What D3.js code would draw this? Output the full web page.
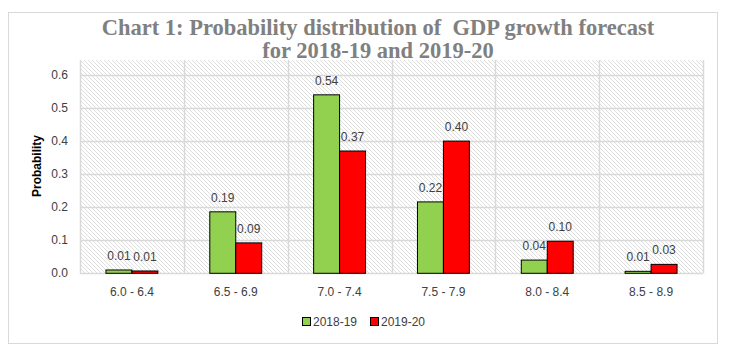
<!DOCTYPE html>
<html>
<head>
<meta charset="utf-8">
<script src="https://cdn.jsdelivr.net/npm/d3@7"></script>
<style>
  body { margin: 0; background: #fff; }
  svg { display: block; }
</style>
</head>
<body>
<div id="chart"></div>
<script>
(function(){

const width = 729;
const height = 354;
const margin = {top:60, right:26, bottom:81, left:80};

// data
const categories = ["6.0 - 6.4", "6.5 - 6.9", "7.0 - 7.4", "7.5 - 7.9", "8.0 - 8.4", "8.5 - 8.9"];
const seriesNames = ["2018-19", "2019-20"];
const values2018 = [0.010, 0.186, 0.540, 0.216, 0.040, 0.006];
const values2019 = [0.007, 0.092, 0.370, 0.400, 0.097, 0.027];
const yTicks = [0, 0.1, 0.2, 0.3, 0.4, 0.5, 0.6];
const colors = ["#92d050", "#ff0000"];

const data = categories.map((c, i) => ({cat: c, vals: [values2018[i], values2019[i]]}));

const svg = d3.select("#chart")
  .append("svg")
  .attr("width", width)
  .attr("height", height);

// hatch pattern for the plot area
const defs = svg.append("defs");
const pat = defs.append("pattern")
  .attr("id", "hatch")
  .attr("patternUnits", "userSpaceOnUse")
  .attr("width", 4)
  .attr("height", 4);
pat.append("rect").attr("width", 4).attr("height", 4).attr("fill", "#fff");
pat.append("path")
  .attr("d", "M-1,-1 L5,5 M-1,3 L1,5 M3,-1 L5,1")
  .attr("stroke", "#dedede")
  .attr("stroke-width", 1);

// outer border
svg.append("rect")
  .attr("x", 8.5)
  .attr("y", 12.5)
  .attr("width", 709)
  .attr("height", 331)
  .attr("fill", "none")
  .attr("stroke", "#d9d9d9");

// title
const title = svg.append("text")
  .attr("x", 378)
  .attr("text-anchor", "middle")
  .style("font-family", "'Liberation Serif', serif")
  .style("font-weight", "bold")
  .style("font-size", "22.5px")
  .style("fill", "#808080")
  .style("white-space", "pre");
title.append("tspan").attr("x", 378).attr("y", 35).text("Chart 1: Probability distribution of  GDP growth forecast");
title.append("tspan").attr("x", 378).attr("y", 58).text("for 2018-19 and 2019-20");

// scales
const x0 = d3.scaleBand()
  .domain(categories)
  .range([margin.left, width - margin.right])
  .padding(0);

const x1 = d3.scaleBand()
  .domain([0, 1])
  .range([x0.bandwidth() * 0.25, x0.bandwidth() * 0.75])
  .padding(0);

const y = d3.scaleLinear()
  .domain([0, 0.6])
  .range([273.3, 75]);

// plot background
svg.append("rect")
  .attr("x", margin.left)
  .attr("y", margin.top)
  .attr("width", width - margin.right - margin.left)
  .attr("height", y(0) - margin.top)
  .attr("fill", "url(#hatch)");

// horizontal gridlines
svg.append("g")
  .selectAll("line")
  .data(yTicks)
  .enter()
  .append("line")
  .attr("x1", margin.left)
  .attr("x2", width - margin.right)
  .attr("y1", d => Math.round(y(d)) + 0.5)
  .attr("y2", d => Math.round(y(d)) + 0.5)
  .attr("stroke", "#d9d9d9")
  .attr("stroke-width", 1.5);

// vertical gridlines at category edges
const edges = categories.map(c => x0(c)).concat([x0(categories[categories.length - 1]) + x0.bandwidth()]);
svg.append("g")
  .selectAll("line")
  .data(edges)
  .enter()
  .append("line")
  .attr("x1", d => Math.round(d) + 0.5)
  .attr("x2", d => Math.round(d) + 0.5)
  .attr("y1", margin.top)
  .attr("y2", y(0))
  .attr("stroke", "#d9d9d9")
  .attr("stroke-width", 1.5);

// Y axis labels
svg.append("g")
  .selectAll("text")
  .data(yTicks)
  .enter()
  .append("text")
  .attr("x", 68)
  .attr("y", d => y(d) + 4)
  .attr("text-anchor", "end")
  .style("font-family", "'Liberation Sans', sans-serif")
  .style("font-size", "12px")
  .style("fill", "#404040")
  .text(d => d3.format(".1f")(d));

// X axis labels
svg.append("g")
  .selectAll("text")
  .data(categories)
  .enter()
  .append("text")
  .attr("x", d => x0(d) + x0.bandwidth() / 2)
  .attr("y", 296)
  .attr("text-anchor", "middle")
  .style("font-family", "'Liberation Sans', sans-serif")
  .style("font-size", "12px")
  .style("fill", "#404040")
  .text(d => d);

// Y axis title
svg.append("text")
  .attr("transform", "translate(41,166) rotate(-90)")
  .attr("text-anchor", "middle")
  .style("font-family", "'Liberation Sans', sans-serif")
  .style("font-size", "12px")
  .style("font-weight", "bold")
  .style("fill", "#000")
  .text("Probability");

// bars
const groups = svg.append("g")
  .selectAll("g")
  .data(data)
  .enter()
  .append("g")
  .attr("transform", d => `translate(${x0(d.cat)},0)`);

groups.selectAll("rect")
  .data(d => d.vals.map((v, k) => ({k: k, v: v})))
  .enter()
  .append("rect")
  .attr("x", d => x1(d.k))
  .attr("y", d => y(d.v))
  .attr("width", x1.bandwidth())
  .attr("height", d => y(0) - y(d.v))
  .attr("fill", d => colors[d.k])
  .attr("stroke", "#000")
  .attr("stroke-width", 1);

// value labels
groups.selectAll("text")
  .data(d => d.vals.map((v, k) => ({k: k, v: v})))
  .enter()
  .append("text")
  .attr("x", d => x1(d.k) + x1.bandwidth() / 2)
  .attr("y", d => y(d.v) - 10)
  .attr("text-anchor", "middle")
  .style("font-family", "'Liberation Sans', sans-serif")
  .style("font-size", "12px")
  .style("fill", "#404040")
  .text(d => d3.format(".2f")(d.v));

// legend
const legend = svg.append("g")
  .attr("transform", "translate(302,317)");

const items = legend.selectAll("g")
  .data(seriesNames)
  .enter()
  .append("g")
  .attr("transform", (d, i) => `translate(${i * 68},0)`);

items.append("rect")
  .attr("x", 0.5)
  .attr("y", 0.5)
  .attr("width", 8)
  .attr("height", 8)
  .attr("fill", (d, i) => colors[i])
  .attr("stroke", "#000");

items.append("text")
  .attr("x", 11)
  .attr("y", 9)
  .style("font-family", "'Liberation Sans', sans-serif")
  .style("font-size", "12px")
  .style("fill", "#404040")
  .text(d => d);

})();
</script>
</body>
</html>
